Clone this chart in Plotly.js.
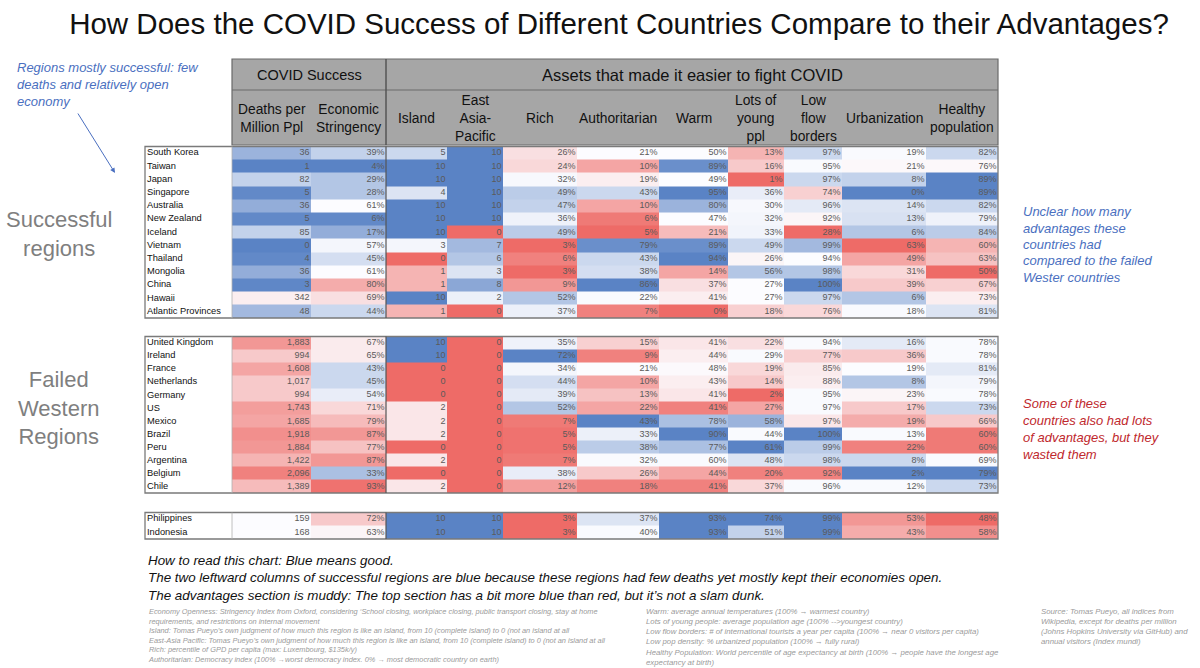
<!DOCTYPE html>
<html>
<head>
<meta charset="utf-8">
<script src="https://cdn.plot.ly/plotly-3.0.1.min.js"></script>
<style>
html,body{margin:0;padding:0;background:#fff;}
#chart{width:1200px;height:668px;}
</style>
</head>
<body>
<div id="chart"></div>
<script>
// ---------------- DATA ----------------
const columnLabels = ['Deaths per<br>Million Ppl', 'Economic<br>Stringency', 'Island', 'East<br>Asia-<br>Pacific', 'Rich',
  'Authoritarian', 'Warm', 'Lots of<br>young<br>ppl', 'Low<br>flow<br>borders', 'Urbanization', 'Healthy<br>population'];
const columnFormats = ['int', 'pct', 'int', 'int', 'pct', 'pct', 'pct', 'pct', 'pct', 'pct', 'pct'];

const successfulRegions = ['South Korea', 'Taiwan', 'Japan', 'Singapore', 'Australia', 'New Zealand', 'Iceland',
  'Vietnam', 'Thailand', 'Mongolia', 'China', 'Hawaii', 'Atlantic Provinces'];
const successfulValues = [
  [36, 39, 5, 10, 26, 21, 50, 13, 97, 19, 82],
  [1, 4, 10, 10, 24, 10, 89, 16, 95, 21, 76],
  [82, 29, 10, 10, 32, 19, 49, 1, 97, 8, 89],
  [5, 28, 4, 10, 49, 43, 95, 36, 74, 0, 89],
  [36, 61, 10, 10, 47, 10, 80, 30, 96, 14, 82],
  [5, 6, 10, 10, 36, 6, 47, 32, 92, 13, 79],
  [85, 17, 10, 0, 49, 5, 21, 33, 28, 6, 84],
  [0, 57, 3, 7, 3, 79, 89, 49, 99, 63, 60],
  [4, 45, 0, 6, 6, 43, 94, 26, 94, 49, 63],
  [36, 61, 1, 3, 3, 38, 14, 56, 98, 31, 50],
  [3, 80, 1, 8, 9, 86, 37, 27, 100, 39, 67],
  [342, 69, 10, 2, 52, 22, 41, 27, 97, 6, 73],
  [48, 44, 1, 0, 37, 7, 0, 18, 76, 18, 81]
];
// cell shade: -1 = full red (bad), 0 = white, 1 = full blue (good)
const successfulShades = [
  [0.6, 0.35, 0.3, 1, -0.2, 0, 0, -0.5, 0.3, 0.02, 0.3],
  [1, 1, 1, 1, -0.25, -0.6, 0.9, -0.35, 0.02, -0.03, -0.03],
  [0.35, 0.45, 1, 1, 0.03, -0.1, 0, -1, 0.3, 0.35, 1],
  [0.95, 0.45, 0.2, 1, 0.4, 0.3, 1, 0.12, -0.3, 1, 1],
  [0.65, 0, 1, 1, 0.35, -0.6, 0.6, 0.03, 0.15, 0.2, 0.3],
  [0.95, 0.95, 1, 1, 0.08, -0.9, 0, 0.05, -0.05, 0.22, 0.08],
  [0.35, 0.65, 1, -1, 0.4, -1, -0.45, 0.07, -1, 0.45, 0.4],
  [1, 0.05, 0.05, 0.55, -1, 0.9, 0.9, 0.3, 0.55, -1, -0.5],
  [0.95, 0.25, -1, 0.45, -0.85, 0.3, 1, -0.05, 0, -0.6, -0.4],
  [0.65, 0, -0.5, 0.2, -1, 0.25, -0.6, 0.45, 0.45, -0.25, -1],
  [0.97, -0.55, -0.5, 0.7, -0.7, 1, -0.2, 0, 1, -0.35, -0.3],
  [-0.1, -0.2, 1, 0.1, 0.45, 0.02, -0.1, 0, 0.3, 0.45, -0.1],
  [0.55, 0.3, -0.5, -1, 0.1, -0.85, -1, -0.3, -0.25, 0.02, 0.2]
];

const failedRegions = ['United Kingdom', 'Ireland', 'France', 'Netherlands', 'Germany', 'US', 'Mexico', 'Brazil',
  'Peru', 'Argentina', 'Belgium', 'Chile'];
const failedValues = [
  [1883, 67, 10, 0, 35, 15, 41, 22, 94, 16, 78],
  [994, 65, 10, 0, 72, 9, 44, 29, 77, 36, 78],
  [1608, 43, 0, 0, 34, 21, 48, 19, 85, 19, 81],
  [1017, 45, 0, 0, 44, 10, 43, 14, 88, 8, 79],
  [994, 54, 0, 0, 39, 13, 41, 2, 95, 23, 78],
  [1743, 71, 2, 0, 52, 22, 41, 27, 97, 17, 73],
  [1685, 79, 2, 0, 7, 43, 78, 58, 97, 19, 66],
  [1918, 87, 2, 0, 5, 33, 90, 44, 100, 13, 60],
  [1884, 77, 0, 0, 5, 38, 77, 61, 99, 22, 60],
  [1422, 87, 2, 0, 7, 32, 60, 48, 98, 8, 69],
  [2096, 33, 0, 0, 38, 26, 44, 20, 92, 2, 79],
  [1389, 93, 2, 0, 12, 18, 41, 37, 96, 12, 73]
];
const failedShades = [
  [-0.7, -0.12, 1, -1, 0.08, -0.3, -0.15, -0.2, 0.02, 0.15, 0.02],
  [-0.35, -0.12, 1, -1, 1, -0.85, -0.1, 0.02, -0.3, -0.35, 0.02],
  [-0.6, 0.3, -1, -1, 0.05, 0, -0.02, -0.25, -0.12, 0, 0.15],
  [-0.35, 0.3, -1, -1, 0.25, -0.6, -0.1, -0.35, -0.1, 0.45, 0.05],
  [-0.35, 0.12, -1, -1, 0.15, -0.4, -0.15, -1, 0.02, -0.05, 0.02],
  [-0.65, -0.25, -0.15, -1, 0.45, -0.6, -0.85, -0.6, 0.02, -0.35, 0.3],
  [-0.6, -0.45, -0.15, -1, -0.9, 1, 0.5, 0.6, -0.15, -0.55, -0.35],
  [-0.75, -0.7, -0.15, -1, -0.95, 0.1, 1, 0.02, 1, 0.02, -0.9],
  [-0.7, -0.4, -1, -1, -0.95, 0.4, 0.5, 1, 0.4, -0.85, -0.9],
  [-0.5, -0.7, -0.15, -1, -0.9, 0.02, 0.02, 0.2, 0.3, 0.3, 0.02],
  [-0.85, 0.5, -1, -1, 0.12, -0.35, -0.6, -0.85, -0.85, 1, 1],
  [-0.45, -0.95, -0.15, -1, -0.65, -0.85, -0.85, -0.25, 0.02, 0.02, 0.3]
];

const otherRegions = ['Philippines', 'Indonesia'];
const otherValues = [
  [159, 72, 10, 10, 3, 37, 93, 74, 99, 53, 48],
  [168, 63, 10, 10, 3, 40, 93, 51, 99, 43, 58]
];
const otherShades = [
  [0, -0.35, 1, 1, -1, 0.2, 1, 1, 1, -0.7, -1],
  [0, -0.05, 1, 1, -1, 0.02, 1, 0.35, 1, -0.55, -0.75]
];

const blueNoteLines = ['Unclear how many', 'advantages these', 'countries had', 'compared to the failed', 'Wester countries'];
const redNoteLines = ['Some of these', 'countries also had lots', 'of advantages, but they', 'wasted them'];

// ---------------- LAYOUT CONSTANTS ----------------
const W = 1200, H = 668;
const FONT = '"Helvetica Neue", "Liberation Sans", Arial, sans-serif';
const COL_EDGES = [232, 311, 386, 447, 503, 577, 659, 728, 784, 842, 926, 998];
const NAME_LEFT = 145;
const HEADER_TOP = 59, HEADER_MID = 90, HEADER_BOTTOM = 145;
const sections = [
  {names: successfulRegions, values: successfulValues, shades: successfulShades, top: 146.5, bottom: 318},
  {names: failedRegions, values: failedValues, shades: failedShades, top: 336.5, bottom: 493},
  {names: otherRegions, values: otherValues, shades: otherShades, top: 512.5, bottom: 539}
];
const RED = '#EE6B67', MID = '#FCFCFF', BLUE = '#5A83C5';

const px = v => v / W;
const py = v => 1 - v / H;

function fmt(v, kind) {
  if (kind === 'pct') return v + '%';
  return v.toLocaleString('en-US');
}

const traces = [];
const layout = {
  width: W, height: H,
  margin: {l: 0, r: 0, t: 0, b: 0},
  paper_bgcolor: '#fff', plot_bgcolor: '#fff',
  showlegend: false,
  font: {family: FONT, color: '#222'},
  title: {
    text: 'How Does the COVID Success of Different Countries Compare to their Advantages?',
    x: px(619), xanchor: 'center', y: py(23.5), yanchor: 'middle',
    font: {family: FONT, size: 29.5, color: '#111'}
  },
  xaxis: {range: [0, W], visible: false, fixedrange: true},
  shapes: [],
  annotations: []
};

sections.forEach((s, i) => {
  const yName = i === 0 ? 'y' : 'y' + (i + 1);
  const axKey = i === 0 ? 'yaxis' : 'yaxis' + (i + 1);
  const n = s.names.length;
  layout[axKey] = {
    type: 'category', categoryarray: s.names, range: [n - 0.5, -0.5],
    domain: [py(s.bottom), py(s.top)], visible: false, fixedrange: true
  };
  traces.push({
    type: 'heatmap', x: COL_EDGES, y: s.names, z: s.shades,
    zmin: -1, zmax: 1,
    colorscale: [[0, RED], [0.5, MID], [1, BLUE]],
    showscale: false, hoverinfo: 'skip', xaxis: 'x', yaxis: yName
  });
  const tx = [], ty = [], tt = [];
  s.values.forEach((row, r) => {
    row.forEach((v, c) => {
      tx.push(COL_EDGES[c + 1] - 1.5);
      ty.push(s.names[r]);
      tt.push(fmt(v, columnFormats[c]));
    });
  });
  traces.push({
    type: 'scatter', mode: 'text', x: tx, y: ty, text: tt,
    textposition: 'middle left', textfont: {family: FONT, size: 9, color: '#5a5a5a'},
    hoverinfo: 'skip', xaxis: 'x', yaxis: yName, cliponaxis: false
  });
  traces.push({
    type: 'scatter', mode: 'text', x: s.names.map(() => NAME_LEFT + 2), y: s.names, text: s.names,
    textposition: 'middle right', textfont: {family: FONT, size: 9.3, color: '#111'},
    hoverinfo: 'skip', xaxis: 'x', yaxis: yName, cliponaxis: false
  });
  layout.shapes.push({type: 'rect', xref: 'x', yref: 'paper', x0: NAME_LEFT, x1: COL_EDGES[COL_EDGES.length - 1],
    y0: py(s.top), y1: py(s.bottom), line: {color: '#7a7a7a', width: 1.3}, layer: 'above'});
  layout.shapes.push({type: 'line', xref: 'x', yref: 'paper', x0: COL_EDGES[0], x1: COL_EDGES[0],
    y0: py(s.top), y1: py(s.bottom), line: {color: '#b0b0b0', width: 0.8}, layer: 'above'});
  layout.shapes.push({type: 'line', xref: 'x', yref: 'paper', x0: COL_EDGES[2], x1: COL_EDGES[2],
    y0: py(s.top), y1: py(s.bottom), line: {color: '#555', width: 1.2}, layer: 'above'});
});

layout.shapes.push({type: 'rect', xref: 'x', yref: 'paper', x0: COL_EDGES[0], x1: COL_EDGES[COL_EDGES.length - 1],
  y0: py(HEADER_BOTTOM), y1: py(HEADER_TOP), fillcolor: '#A6A6A6', line: {color: '#6a6a6a', width: 1.2}, layer: 'below'});
layout.shapes.push({type: 'line', xref: 'x', yref: 'paper', x0: COL_EDGES[0], x1: COL_EDGES[COL_EDGES.length - 1],
  y0: py(HEADER_MID), y1: py(HEADER_MID), line: {color: '#6a6a6a', width: 1}});
layout.shapes.push({type: 'line', xref: 'x', yref: 'paper', x0: COL_EDGES[2], x1: COL_EDGES[2],
  y0: py(HEADER_TOP), y1: py(HEADER_BOTTOM), line: {color: '#555', width: 1.5}});

function ann(text, x, y, opts) {
  layout.annotations.push(Object.assign({
    text: text, xref: 'paper', yref: 'paper', x: px(x), y: py(y),
    xanchor: 'center', yanchor: 'middle', showarrow: false, borderpad: 0,
    font: {family: FONT, size: 13, color: '#111'}
  }, opts || {}));
}

ann('COVID Success', (COL_EDGES[0] + COL_EDGES[2]) / 2, 75, {font: {family: FONT, size: 14.5, color: '#111'}});
ann('Assets that made it easier to fight COVID', (COL_EDGES[2] + COL_EDGES[COL_EDGES.length - 1]) / 2, 75,
  {font: {family: FONT, size: 16.5, color: '#111'}});
columnLabels.forEach((lab, c) => {
  ann(lab, (COL_EDGES[c] + COL_EDGES[c + 1]) / 2, 118, {font: {family: FONT, size: 13.8, color: '#111'}});
});

ann('<i>Regions mostly successful: few<br>deaths and relatively open<br>economy</i>', 16, 59,
  {xanchor: 'left', yanchor: 'top', align: 'left', font: {family: FONT, size: 13, color: '#4A6FC0'}});
layout.annotations.push({
  text: '', xref: 'paper', yref: 'paper', x: px(115), y: py(173),
  showarrow: true, arrowhead: 2, arrowsize: 1, arrowwidth: 1, arrowcolor: '#4A6FC0',
  axref: 'pixel', ayref: 'pixel', ax: -38, ay: -61
});
ann('Successful<br>regions', 59, 234, {font: {family: FONT, size: 22, color: '#7f7f7f'}});
ann('Failed<br>Western<br>Regions', 59, 408, {font: {family: FONT, size: 22, color: '#7f7f7f'}});
blueNoteLines.forEach((t, k) => ann('<i>' + t + '</i>', 1022, 212 + k * 16.3,
  {xanchor: 'left', font: {family: FONT, size: 13, color: '#4A6FC0'}}));
redNoteLines.forEach((t, k) => ann('<i>' + t + '</i>', 1022, 403 + k * 17,
  {xanchor: 'left', font: {family: FONT, size: 13, color: '#C0282D'}}));

ann('<i>How to read this chart: Blue means good.<br>The two leftward columns of successful regions are blue because these regions had few deaths yet mostly kept their economies open.<br>The advantages section is muddy: The top section has a bit more blue than red, but it\u2019s not a slam dunk.</i>',
  147, 552, {xanchor: 'left', yanchor: 'top', align: 'left', font: {family: FONT, size: 13.4, color: '#111'}});

const fnColor = '#9a9a9a';
ann('<i>Economy Openness: Stringency Index from Oxford, considering \u2018School closing, workplace closing, public transport closing, stay at home<br>requirements, and restrictions on internal movement<br>Island: Tomas Pueyo\u2019s own judgment of how much this region is like an island, from 10 (complete island) to 0 (not an island at all<br>East-Asia Pacific: Tomas Pueyo\u2019s own judgment of how much this region is like an island, from 10 (complete island) to 0 (not an island at all<br>Rich: percentile of GPD per capita (max: Luxembourg, $135k/y)<br>Authoritarian: Democracy index (100% \u2192worst democracy index. 0% \u2192 most democratic country on earth)</i>',
  147, 606, {xanchor: 'left', yanchor: 'top', align: 'left', font: {family: FONT, size: 7.4, color: fnColor}});
ann('<i>Warm: average annual temperatures (100% \u2192 warmest country)<br>Lots of young people: average population age (100% -->youngest country)<br>Low flow borders: # of international tourists a year per capita (100% \u2192 near 0 visitors per capita)<br>Low pop density: % urbanized population (100% \u2192 fully rural)<br>Healthy Population: World percentile of age expectancy at birth (100% \u2192 people have the longest age<br>expectancy at birth)</i>',
  645, 606, {xanchor: 'left', yanchor: 'top', align: 'left', font: {family: FONT, size: 7.8, color: fnColor}});
ann('<i>Source: Tomas Pueyo, all indices from<br>Wikipedia, except for deaths per million<br>(Johns Hopkins University via GitHub) and<br>annual visitors (Index mundi)</i>',
  1040, 606, {xanchor: 'left', yanchor: 'top', align: 'left', font: {family: FONT, size: 7.8, color: fnColor}});

Plotly.newPlot('chart', traces, layout, {staticPlot: true, displayModeBar: false});
</script>
</body>
</html>
